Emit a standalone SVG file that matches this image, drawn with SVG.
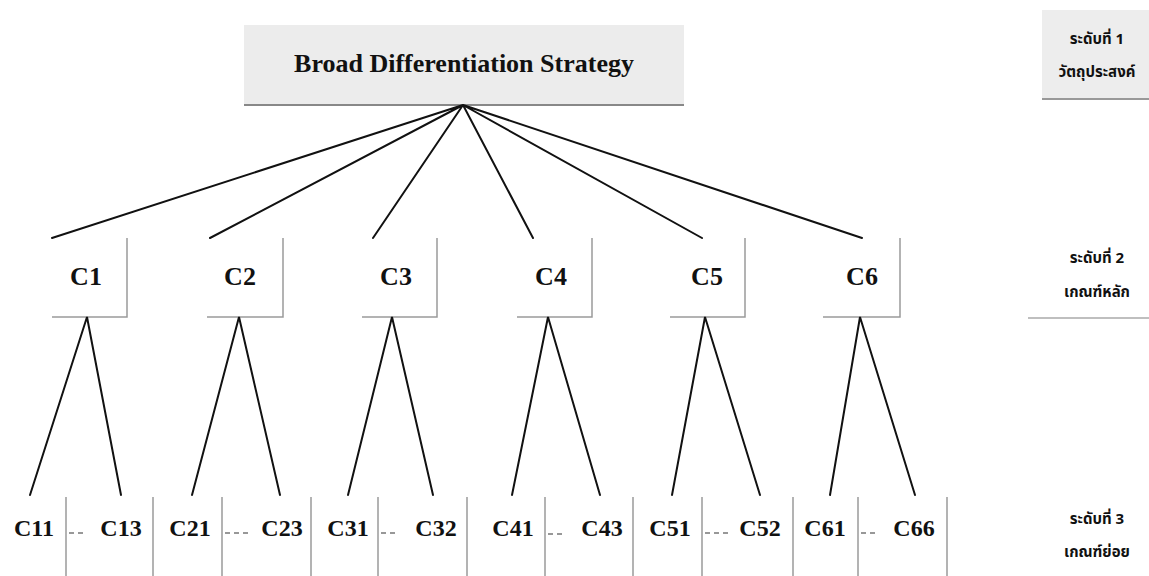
<svg xmlns="http://www.w3.org/2000/svg" width="1149" height="576" viewBox="0 0 1149 576">
<style>
.lbl{font-family:"Liberation Serif","Times New Roman",serif;font-weight:bold;fill:#111;text-anchor:middle}
.big{font-size:26px}
.c{font-size:26px}
.s{font-size:24px}
.th{font-family:"Noto Sans Thai","Noto Sans","DejaVu Sans",sans-serif;font-weight:bold;font-size:15px;fill:#111;text-anchor:middle}
.sh{stroke:#9a9a9a;stroke-width:1.5;fill:none}
.ln{stroke:#111;stroke-width:2;fill:none;stroke-linecap:round}
.dots{stroke:#777;stroke-width:1.5;stroke-dasharray:5 4;fill:none}
</style>
<rect width="1149" height="576" fill="#ffffff"/>
<g id="root">
<rect x="244" y="25" width="440" height="80" fill="#ececec"/>
<line x1="244" y1="105" x2="684" y2="105" stroke="#888" stroke-width="2"/>
<text class="lbl big" x="464" y="72">Broad Differentiation Strategy</text>
</g>
<g id="level1">
<rect x="1042" y="10" width="107" height="89" fill="#ededed"/>
<line x1="1042" y1="99" x2="1149" y2="99" stroke="#999" stroke-width="2"/>
<text class="th" x="1097" y="44">ระดับที่ 1</text>
<text class="th" x="1097" y="77">วัตถุประสงค์</text>
</g>
<g id="level2">
<line x1="1028" y1="318" x2="1149" y2="318" stroke="#aaa" stroke-width="1.5"/>
<text class="th" x="1097" y="263">ระดับที่ 2</text>
<text class="th" x="1097" y="297">เกณฑ์หลัก</text>
</g>
<g id="level3">
<text class="th" x="1097" y="524">ระดับที่ 3</text>
<text class="th" x="1097" y="557">เกณฑ์ย่อย</text>
</g>
<g id="C1"><path class="sh" d="M127 238 V317 H52"/><text class="lbl c" x="86" y="285">C1</text></g>
<g id="C2"><path class="sh" d="M283 238 V317 H207"/><text class="lbl c" x="240" y="285">C2</text></g>
<g id="C3"><path class="sh" d="M437 238 V317 H362"/><text class="lbl c" x="396" y="285">C3</text></g>
<g id="C4"><path class="sh" d="M592 238 V317 H517"/><text class="lbl c" x="551" y="285">C4</text></g>
<g id="C5"><path class="sh" d="M745 238 V317 H670"/><text class="lbl c" x="707" y="285">C5</text></g>
<g id="C6"><path class="sh" d="M900 238 V317 H823"/><text class="lbl c" x="862" y="285">C6</text></g>
<g id="C11"><path class="sh" d="M66 497 V576"/><text class="lbl s" x="34" y="536">C11</text></g>
<g id="C13"><path class="sh" d="M153 497 V576"/><text class="lbl s" x="121" y="536">C13</text></g>
<g id="C21"><path class="sh" d="M222 497 V576"/><text class="lbl s" x="190" y="536">C21</text></g>
<g id="C23"><path class="sh" d="M311 497 V576"/><text class="lbl s" x="282" y="536">C23</text></g>
<g id="C31"><path class="sh" d="M378 497 V576"/><text class="lbl s" x="348" y="536">C31</text></g>
<g id="C32"><path class="sh" d="M467 497 V576"/><text class="lbl s" x="436" y="536">C32</text></g>
<g id="C41"><path class="sh" d="M545 497 V576"/><text class="lbl s" x="513" y="536">C41</text></g>
<g id="C43"><path class="sh" d="M633 497 V576"/><text class="lbl s" x="602" y="536">C43</text></g>
<g id="C51"><path class="sh" d="M702 497 V576"/><text class="lbl s" x="670" y="536">C51</text></g>
<g id="C52"><path class="sh" d="M793 497 V576"/><text class="lbl s" x="760" y="536">C52</text></g>
<g id="C61"><path class="sh" d="M858 497 V576"/><text class="lbl s" x="825" y="536">C61</text></g>
<g id="C66"><path class="sh" d="M947 497 V576"/><text class="lbl s" x="914" y="536">C66</text></g>
<g id="ellipses">
<line class="dots" x1="69" y1="533" x2="84" y2="533"/>
<line class="dots" x1="225" y1="533" x2="250" y2="533"/>
<line class="dots" x1="381" y1="533" x2="398" y2="533"/>
<line class="dots" x1="548" y1="534" x2="563" y2="534" stroke-dasharray="2 4 8 0"/>
<line class="dots" x1="705" y1="533" x2="730" y2="533"/>
<line class="dots" x1="861" y1="533" x2="876" y2="533"/>
</g>
<g id="connectors">
<path class="ln" d="M463 105 L52 238 M463 105 L210 238 M463 105 L373 238 M463 105 L533 238 M463 105 L702 238 M463 105 L862 238"/>
<path class="ln" d="M30 495 L87 317 L121 495"/>
<path class="ln" d="M192 495 L239 317 L280 495"/>
<path class="ln" d="M348 495 L392 317 L433 495"/>
<path class="ln" d="M512 495 L548 317 L600 495"/>
<path class="ln" d="M672 495 L705 317 L760 495"/>
<path class="ln" d="M830 495 L860 317 L915 495"/>
</g>
</svg>
